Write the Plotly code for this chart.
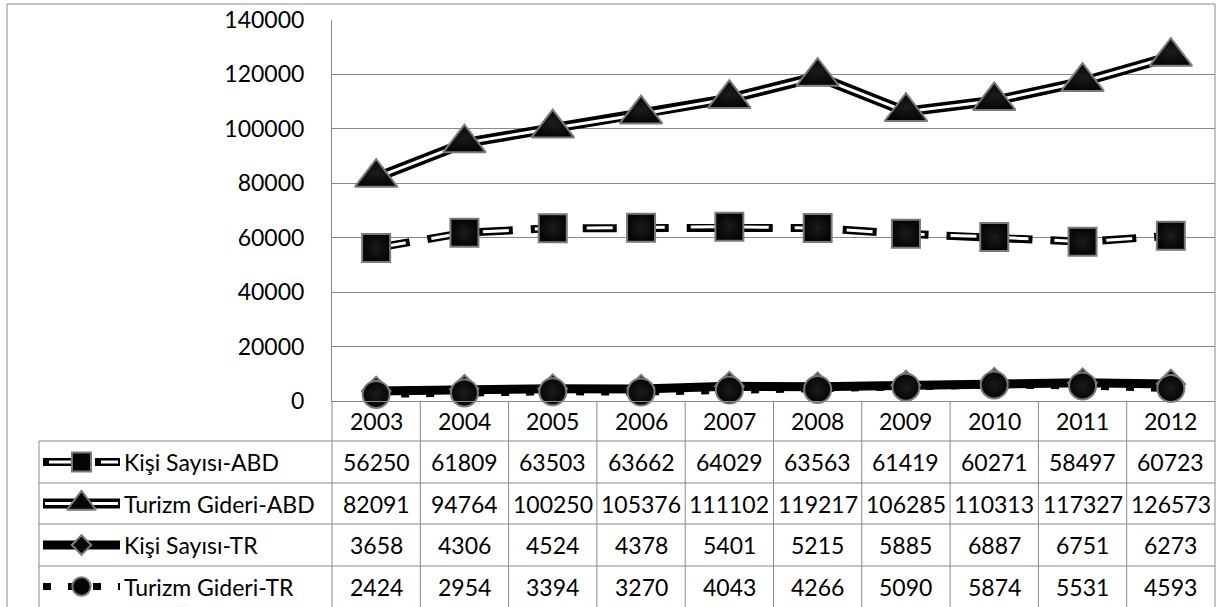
import plotly.graph_objects as go

# ---------------- data ----------------
years = ["2003", "2004", "2005", "2006", "2007", "2008", "2009", "2010", "2011", "2012"]
series_names = ["Kişi Sayısı-ABD", "Turizm Gideri-ABD", "Kişi Sayısı-TR", "Turizm Gideri-TR"]
kisi_abd = [56250, 61809, 63503, 63662, 64029, 63563, 61419, 60271, 58497, 60723]
gider_abd = [82091, 94764, 100250, 105376, 111102, 119217, 106285, 110313, 117327, 126573]
kisi_tr = [3658, 4306, 4524, 4378, 5401, 5215, 5885, 6887, 6751, 6273]
gider_tr = [2424, 2954, 3394, 3270, 4043, 4266, 5090, 5874, 5531, 4593]
y_ticks = [0, 20000, 40000, 60000, 80000, 100000, 120000, 140000]

# ---------------- layout constants (px) ----------------
W, H = 1224, 607
PX_L, PX_R = 332, 1215          # plot area left/right
PY_TOP, PY_0 = 20, 401          # pixel of 140000 and of 0
ROWS = [441, 483, 524, 566, 607]  # table row boundaries under header
LABEL_L = 39
BORDER_L, BORDER_T = 7, 4
GRID = "#898989"
FONT = dict(family="Lato, 'Open Sans', sans-serif", size=23, color="#000000")


def px(x):
    return x / W


def py(y):
    return 1 - y / H


MARKER_LINE = dict(color="#7a7a7a", width=2)

# style specification per series
styles = [
    dict(outer=dict(color="black", width=8, dash="34px,18px"),
         inner=dict(color="white", width=3, dash="0px,4px,26px,22px"),
         marker=dict(symbol="square", size=28)),
    dict(outer=dict(color="black", width=10),
         inner=dict(color="white", width=3),
         marker=dict(symbol="triangle-up", size=37)),
    dict(outer=dict(color="black", width=9),
         inner=None,
         marker=dict(symbol="diamond", size=22)),
    dict(outer=dict(color="black", width=7, dash="8px,17px"),
         inner=None,
         marker=dict(symbol="circle", size=27)),
]
values = [kisi_abd, gider_abd, kisi_tr, gider_tr]
xidx = list(range(len(years)))

fig = go.Figure()


def add_series(xs, ys, st, xaxis="x", yaxis="y", scale=1.0):
    mk = dict(symbol=st["marker"]["symbol"], size=st["marker"]["size"] * scale,
              color="#050505", line=MARKER_LINE,
              gradient=dict(type="radial", color="#1c1c1c"))
    if st["inner"] is None:
        fig.add_trace(go.Scatter(x=xs, y=ys, mode="lines+markers", line=st["outer"],
                                 marker=mk, xaxis=xaxis, yaxis=yaxis, hoverinfo="skip",
                                 cliponaxis=False))
    else:
        fig.add_trace(go.Scatter(x=xs, y=ys, mode="lines", line=st["outer"],
                                 xaxis=xaxis, yaxis=yaxis, hoverinfo="skip"))
        fig.add_trace(go.Scatter(x=xs, y=ys, mode="lines+markers", line=st["inner"],
                                 marker=mk, xaxis=xaxis, yaxis=yaxis, hoverinfo="skip",
                                 cliponaxis=False))


# main series
for vals, st in zip(values, styles):
    add_series(xidx, vals, st)

# legend keys inside the data table (pixel-space overlay axes)
KEY_X0, KEY_X1 = 43, 120
for i, st in enumerate(styles):
    cy = (ROWS[i] + ROWS[i + 1]) / 2
    fig.add_trace(go.Scatter(x=[KEY_X0, KEY_X1], y=[cy, cy], mode="lines", line=st["outer"],
                             xaxis="x2", yaxis="y2", hoverinfo="skip"))
    if st["inner"] is not None:
        fig.add_trace(go.Scatter(x=[KEY_X0 + 2, KEY_X1 - 2], y=[cy, cy], mode="lines",
                                 line=dict(color="white", width=st["inner"]["width"],
                                           dash=st["inner"].get("dash", "solid")),
                                 xaxis="x2", yaxis="y2", hoverinfo="skip"))
    fig.add_trace(go.Scatter(x=[(KEY_X0 + KEY_X1) / 2], y=[cy], mode="markers",
                             marker=dict(symbol=st["marker"]["symbol"],
                                         size=st["marker"]["size"] * 0.68,
                                         color="#050505", line=MARKER_LINE),
                             xaxis="x2", yaxis="y2", hoverinfo="skip", cliponaxis=False))

# ---------------- shapes (borders + table grid) ----------------
line = dict(color=GRID, width=1)
shapes = []
# outer chart border
shapes.append(dict(type="line", xref="paper", yref="paper", x0=px(BORDER_L), x1=px(BORDER_L),
                   y0=py(BORDER_T), y1=py(H + 2), line=line))
shapes.append(dict(type="line", xref="paper", yref="paper", x0=px(BORDER_L), x1=px(PX_R),
                   y0=py(BORDER_T), y1=py(BORDER_T), line=line))
shapes.append(dict(type="line", xref="paper", yref="paper", x0=px(PX_R), x1=px(PX_R),
                   y0=py(BORDER_T), y1=py(H + 2), line=line))
# table horizontal lines
for yb in ROWS[:-1]:
    shapes.append(dict(type="line", xref="paper", yref="paper", x0=px(LABEL_L), x1=px(PX_R),
                       y0=py(yb), y1=py(yb), line=line))
# table vertical lines
shapes.append(dict(type="line", xref="paper", yref="paper", x0=px(LABEL_L), x1=px(LABEL_L),
                   y0=py(ROWS[0]), y1=py(H + 2), line=line))
shapes.append(dict(type="line", xref="paper", yref="paper", x0=px(PX_L), x1=px(PX_L),
                   y0=py(PY_0), y1=py(H + 2), line=line))
for i in range(1, len(years)):
    shapes.append(dict(type="line", xref="x", yref="paper", x0=i - 0.5, x1=i - 0.5,
                       y0=py(PY_0), y1=py(H + 2), line=line))

# ---------------- annotations (table text) ----------------
ann = []
for i, yr in enumerate(years):
    ann.append(dict(x=i, xref="x", y=py((PY_0 + ROWS[0]) / 2), yref="paper", text=yr,
                    showarrow=False, font=FONT, xanchor="center", yanchor="middle"))
for r, (name, vals) in enumerate(zip(series_names, values)):
    cy = (ROWS[r] + ROWS[r + 1]) / 2
    ann.append(dict(x=px(122), xref="paper", y=py(cy), yref="paper", text=name,
                    showarrow=False, font=FONT, xanchor="left", yanchor="middle"))
    for i, v in enumerate(vals):
        ann.append(dict(x=i, xref="x", y=py(cy), yref="paper", text=str(v),
                        showarrow=False, font=FONT, xanchor="center", yanchor="middle"))

fig.update_layout(
    width=W, height=H, autosize=False,
    margin=dict(l=0, r=0, t=0, b=0, pad=0, autoexpand=False),
    paper_bgcolor="white", plot_bgcolor="rgba(0,0,0,0)",
    showlegend=False,
    font=FONT,
    xaxis=dict(domain=[px(PX_L), px(PX_R)], range=[-0.5, len(years) - 0.5],
               showgrid=False, zeroline=False, showline=True, linecolor=GRID, linewidth=1,
               showticklabels=False, ticks="", fixedrange=True, automargin=False),
    yaxis=dict(domain=[py(PY_0), py(PY_TOP)], range=[0, 140000], tickvals=y_ticks,
               ticktext=[str(t) for t in y_ticks],
               showgrid=True, gridcolor=GRID, gridwidth=1, zeroline=False,
               showline=True, linecolor=GRID, linewidth=1, ticks="",
               tickfont=FONT, ticklabelstandoff=22, fixedrange=True, automargin=False),
    xaxis2=dict(domain=[0, 1], range=[0, W], visible=False, anchor="y2", fixedrange=True,
                automargin=False),
    yaxis2=dict(domain=[0, 1], range=[H, 0], visible=False, anchor="x2", fixedrange=True,
                automargin=False),
    shapes=shapes,
    annotations=ann,
)

fig.write_html("out.html")
